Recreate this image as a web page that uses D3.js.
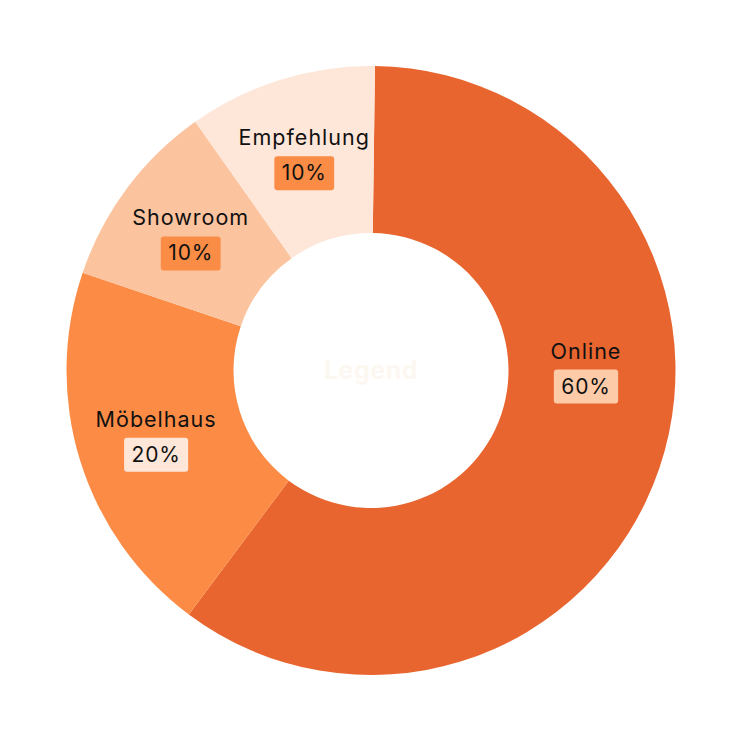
<!DOCTYPE html>
<html>
<head>
<meta charset="utf-8">
<script src="https://cdn.jsdelivr.net/npm/d3@7"></script>
<style>
  html, body { margin: 0; padding: 0; background: #fff; }
  svg { display: block; font-family: "Inter", "DejaVu Sans", sans-serif; }
</style>
</head>
<body>
<div id="chart"></div>
<script>
// chart data
var channels = ["Online", "Möbelhaus", "Showroom", "Empfehlung"];
var shares = [60, 20, 10, 10];
var sliceColors = ["#e8652f", "#fc8c45", "#fbc39e", "#fee6d8"];
var badgeColors = ["#fdcba8", "#fee6d8", "#fa8c45", "#fa8c45"];
var centerTitle = "Legend";

var width = 743, height = 742;
var cx = 371, cy = 370.5;
var outerR = 304.5, innerR = 137.5;

var svg = d3.select("#chart")
  .append("svg")
  .attr("width", width)
  .attr("height", height);

var g = svg.append("g")
  .attr("transform", "translate(" + cx + "," + cy + ")");

// data rows
var rows = channels.map(function (c, i) {
  return { name: c, value: shares[i], fill: sliceColors[i], badge: badgeColors[i] };
});

var rot = 0.013; // start is very slightly past 12 o'clock
var pie = d3.pie()
  .value(function (d) { return d.value; })
  .sort(null)
  .startAngle(rot)
  .endAngle(2 * Math.PI + rot);

var arc = d3.arc().innerRadius(innerR).outerRadius(outerR);
var labelArc = d3.arc().innerRadius(225).outerRadius(225);

var arcs = pie(rows);

g.selectAll(".slice")
  .data(arcs)
  .enter().append("path")
  .attr("class", "slice")
  .attr("d", arc)
  .attr("fill", function (d) { return d.data.fill; });

// centre text, nearly white
g.append("text")
  .attr("text-anchor", "middle")
  .attr("y", 8)
  .attr("font-size", 25)
  .attr("font-weight", 700)
  .attr("letter-spacing", 0.5)
  .attr("fill", "#fdf7f1")
  .text(centerTitle);

// label positions: centroid, but big slices (>half) go to the side
function labelPos(d) {
  var span = d.endAngle - d.startAngle;
  if (span > Math.PI) {
    return [215, -1.5];
  }
  return labelArc.centroid(d);
}

var lab = g.selectAll(".lab")
  .data(arcs)
  .enter().append("g")
  .attr("class", "lab")
  .attr("transform", function (d) {
    var p = labelPos(d);
    return "translate(" + p[0] + "," + p[1] + ")";
  });

lab.append("text")
  .attr("text-anchor", "middle")
  .attr("y", -10.5)
  .attr("font-size", 21.5)
  .attr("letter-spacing", 1)
  .attr("fill", "#111")
  .text(function (d) { return d.data.name; });

var pct = lab.append("text")
  .attr("class", "pct")
  .attr("text-anchor", "middle")
  .attr("y", 24.5)
  .attr("font-size", 21)
  .attr("letter-spacing", 0.8)
  .attr("fill", "#111")
  .text(function (d) { return d.data.value + "%"; });

// badge behind percent
pct.each(function (d) {
  var w = this.getComputedTextLength() + 15;
  d3.select(this.parentNode).insert("rect", ".pct")
    .attr("x", -w / 2)
    .attr("y", 0.5)
    .attr("width", w)
    .attr("height", 34)
    .attr("rx", 3)
    .attr("fill", d.data.badge);
});
</script>
</body>
</html>
